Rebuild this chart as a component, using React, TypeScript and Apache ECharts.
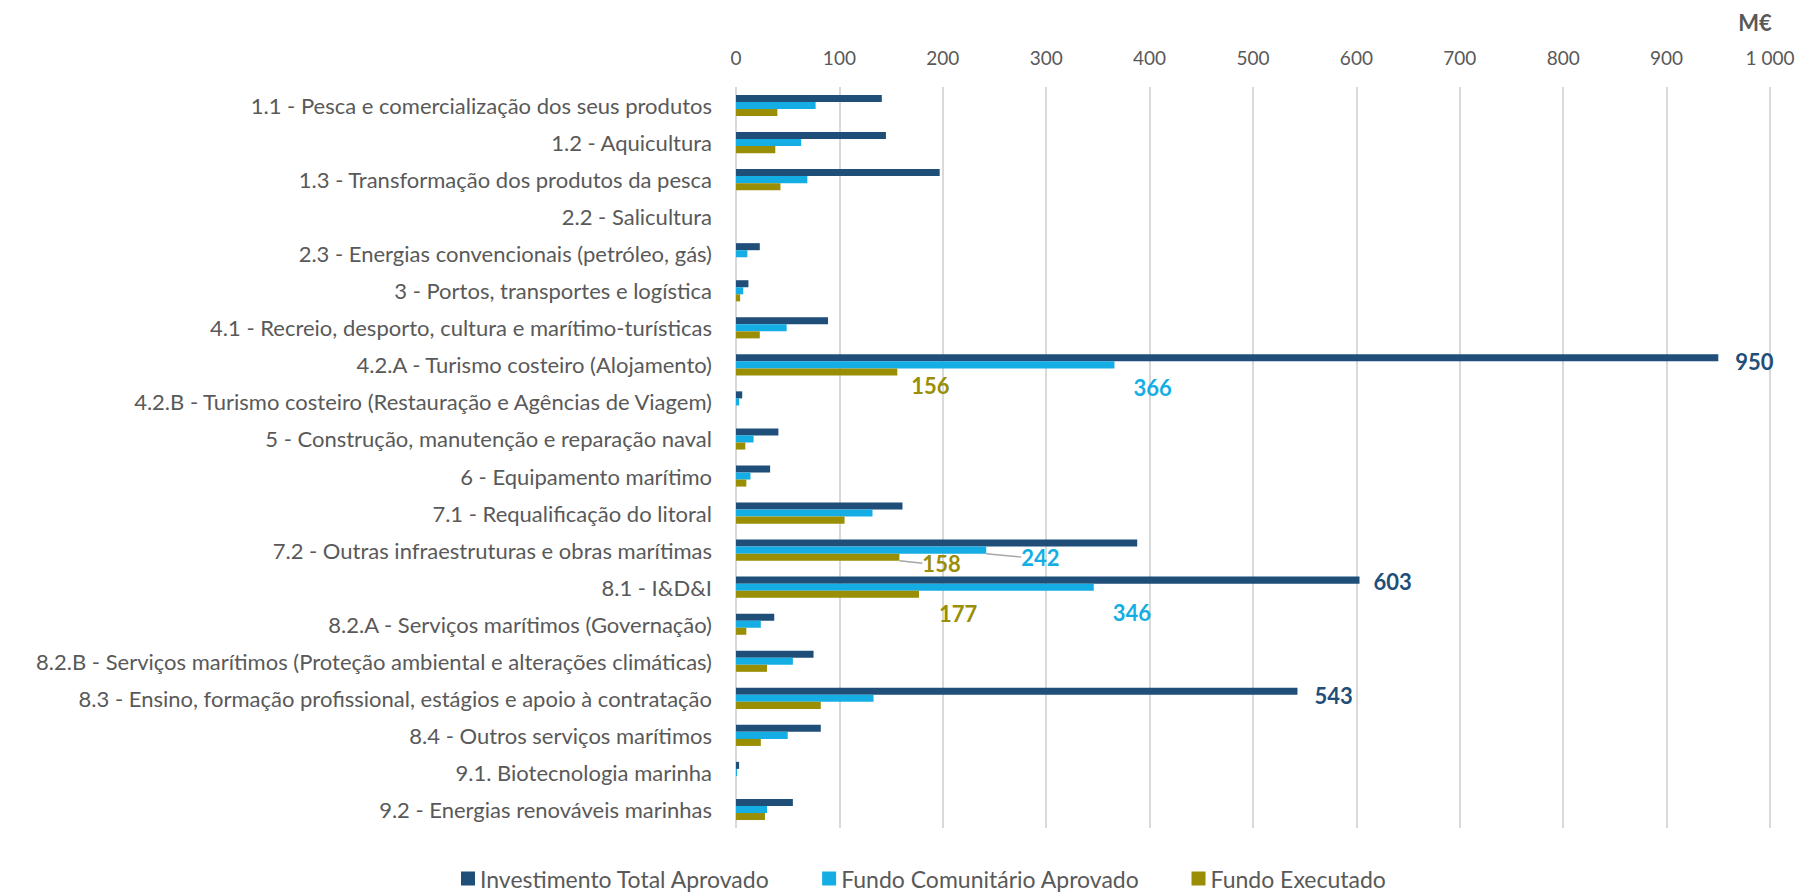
import React, { useEffect, useRef } from "react";
import * as echarts from "echarts";

const categories = [
  "1.1 - Pesca e comercialização dos seus produtos",
  "1.2 - Aquicultura",
  "1.3 - Transformação dos produtos da pesca",
  "2.2 - Salicultura",
  "2.3 - Energias convencionais (petróleo, gás)",
  "3 - Portos, transportes e logística",
  "4.1 - Recreio, desporto, cultura e marítimo-turísticas",
  "4.2.A - Turismo costeiro (Alojamento)",
  "4.2.B - Turismo costeiro (Restauração e Agências de Viagem)",
  "5 - Construção, manutenção e reparação naval",
  "6 - Equipamento marítimo",
  "7.1 - Requalificação do litoral",
  "7.2 - Outras infraestruturas e obras marítimas",
  "8.1 - I&D&I",
  "8.2.A - Serviços marítimos (Governação)",
  "8.2.B - Serviços marítimos (Proteção ambiental e alterações climáticas)",
  "8.3 - Ensino, formação profissional, estágios e apoio à contratação",
  "8.4 - Outros serviços marítimos",
  "9.1. Biotecnologia marinha",
  "9.2 - Energias renováveis marinhas",
];

const investimentoTotal = [141, 145, 197, 0, 23, 12, 89, 950, 6, 41, 33, 161, 388, 603, 37, 75, 543, 82, 3, 55];
const fundoComunitario = [77, 63, 69, 0, 11, 7, 49, 366, 3, 17, 14, 132, 242, 346, 24, 55, 133, 50, 1, 30];
const fundoExecutado = [40, 38, 43, 0, 0, 4, 23, 156, 0, 9, 10, 105, 158, 177, 10, 30, 82, 24, 0, 28];

const seriesNames = ["Investimento Total Aprovado", "Fundo Comunitário Aprovado", "Fundo Executado"];
const axisMin = 0;
const axisMax = 1000;
const axisStep = 100;
const unitLabel = "M€";

const FONT = "Lato, 'Open Sans', sans-serif";
const GRAY = "#595959";
const COLORS = ["#1F4E79", "#14AEE4", "#998E05"];

type Place = { dx: number; dy: number; line?: boolean };
// label placement per data index (which bars carry a value label)
const placeInv: Record<number, Place> = { 7: { dx: 17, dy: 4 }, 13: { dx: 14, dy: 1 }, 16: { dx: 17, dy: 4 } };
const placeCom: Record<number, Place> = { 7: { dx: 19, dy: 23 }, 12: { dx: 35, dy: 7, line: true }, 13: { dx: 19, dy: 25 } };
const placeExe: Record<number, Place> = { 7: { dx: 14, dy: 14 }, 12: { dx: 23, dy: 6, line: true }, 13: { dx: 20, dy: 19 } };

function buildData(values: number[], places: Record<number, Place>, color: string) {
  return values.map((v, i) => {
    const p = places[i];
    if (!p) return v;
    return {
      value: v,
      label: {
        show: true,
        position: "right",
        distance: 0,
        color,
        fontSize: 22,
        fontWeight: "bold",
        fontFamily: FONT,
      },
      labelLine: p.line
        ? { show: true, lineStyle: { color: "#A6A6A6", width: 1.5 } }
        : { show: false },
    };
  });
}

function makeSeries(name: string, values: number[], places: Record<number, Place>, color: string) {
  return {
    name,
    type: "bar",
    data: buildData(values, places, color),
    itemStyle: { color },
    barGap: "0%",
    barCategoryGap: "43%",
    label: { show: false },
    labelLine: { show: false },
    labelLayout: (params: any) => {
      const p = places[params.dataIndex];
      if (p) return { dx: p.dx, dy: p.dy };
      return {};
    },
  };
}

function fmt(v: number) {
  return String(v).replace(/\B(?=(\d{3})+(?!\d))/g, " ");
}

export default function App() {
  const ref = useRef<HTMLDivElement>(null);
  useEffect(() => {
    if (!ref.current) return;
    const chart = echarts.init(ref.current, undefined, { renderer: "svg" });
    chart.setOption({
      animation: false,
      textStyle: { fontFamily: FONT },
      grid: { left: 736, right: 28, top: 87, bottom: 64, containLabel: false },
      xAxis: {
        type: "value",
        position: "top",
        min: axisMin,
        max: axisMax,
        interval: axisStep,
        axisLine: { show: false },
        axisTick: { show: false },
        axisLabel: { color: GRAY, fontSize: 19, margin: 20, fontFamily: FONT, formatter: (v: number) => fmt(v) },
        splitLine: { show: true, lineStyle: { color: "#D9D9D9", width: 2 } },
      },
      yAxis: {
        type: "category",
        inverse: true,
        data: categories,
        axisLine: { show: false },
        axisTick: { show: false },
        axisLabel: { color: GRAY, fontSize: 22, margin: 24, fontFamily: FONT },
        splitLine: { show: false },
      },
      legend: {
        top: 867,
        left: 461,
        padding: 0,
        itemGap: 52,
        itemWidth: 14,
        itemHeight: 14,
        icon: "rect",
        textStyle: { color: GRAY, fontSize: 23, fontFamily: FONT },
        data: seriesNames,
      },
      graphic: [
        {
          type: "text",
          x: 1755,
          y: 22,
          style: {
            text: unitLabel,
            fill: GRAY,
            fontSize: 22,
            fontWeight: "bold",
            fontFamily: FONT,
            align: "center",
            verticalAlign: "middle",
          },
        },
      ],
      series: [
        makeSeries(seriesNames[0], investimentoTotal, placeInv, COLORS[0]),
        makeSeries(seriesNames[1], fundoComunitario, placeCom, COLORS[1]),
        makeSeries(seriesNames[2], fundoExecutado, placeExe, COLORS[2]),
      ],
    });
    return () => chart.dispose();
  }, []);
  return (
    <div
      ref={ref}
      style={{ position: "absolute", left: 0, top: 0, width: 1798, height: 892 }}
    />
  );
}
